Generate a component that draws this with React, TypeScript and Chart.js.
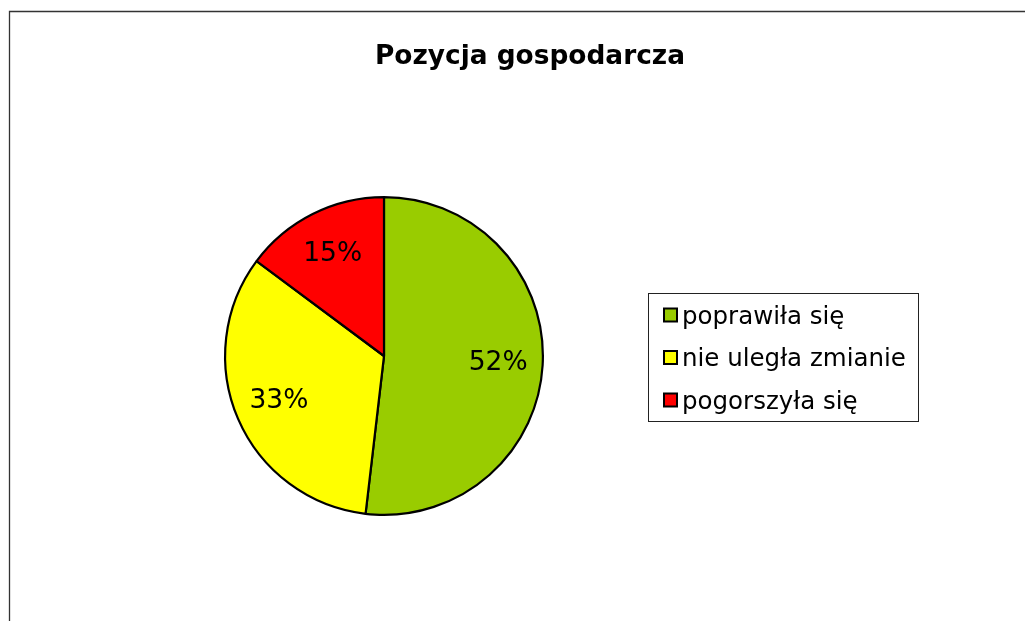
import React, { useEffect, useRef } from "react";
import { Chart, registerables } from "chart.js";

Chart.register(...registerables);

const title = "Pozycja gospodarcza";
const categories = ["poprawiła się", "nie uległa zmianie", "pogorszyła się"];
const values = [14, 9, 4];
const colors = ["#99CC00", "#FFFF00", "#FF0000"];

const FONT = "'DejaVu Sans', Verdana, sans-serif";

const decorPlugin = {
  id: "decor",
  afterDraw(chart: any) {
    const ctx = chart.ctx as CanvasRenderingContext2D;
    ctx.save();
    // outer frame
    ctx.strokeStyle = "#333333";
    ctx.lineWidth = 1.3;
    ctx.beginPath();
    ctx.moveTo(9.5, 700);
    ctx.lineTo(9.5, 11.5);
    ctx.lineTo(1025, 11.5);
    ctx.stroke();

    // title
    ctx.fillStyle = "#000";
    ctx.font = `bold 26.4px ${FONT}`;
    ctx.textAlign = "center";
    ctx.textBaseline = "alphabetic";
    ctx.fillText(title, 530, 64);

    // percentage labels
    const meta = chart.getDatasetMeta(0);
    const total = values.reduce((a, b) => a + b, 0);
    ctx.font = `26.5px ${FONT}`;
    ctx.textBaseline = "middle";
    meta.data.forEach((arc: any, i: number) => {
      const p = arc.getProps(["x", "y", "startAngle", "endAngle", "outerRadius"], true);
      const mid = (p.startAngle + p.endAngle) / 2;
      const r = p.outerRadius * 0.72;
      const tx = p.x + Math.cos(mid) * r;
      const ty = p.y + Math.sin(mid) * r;
      const pct = Math.round((values[i] / total) * 100) + "%";
      ctx.fillText(pct, tx, ty);
    });

    // legend
    const lx = 648.5, ly = 293.5, lw = 270, lh = 128;
    ctx.strokeStyle = "#222";
    ctx.lineWidth = 1;
    ctx.strokeRect(lx, ly, lw, lh);
    ctx.font = `24.5px ${FONT}`;
    ctx.textAlign = "left";
    ctx.textBaseline = "alphabetic";
    categories.forEach((c, i) => {
      const cy = 315.5 + i * 42.5;
      ctx.fillStyle = colors[i];
      ctx.fillRect(664, cy - 7, 13, 13);
      ctx.strokeStyle = "#000";
      ctx.lineWidth = 2;
      ctx.strokeRect(664, cy - 7, 13, 13);
      ctx.fillStyle = "#000";
      ctx.fillText(c, 682, cy + 8);
    });
    ctx.restore();
  },
};

export default function App() {
  const ref = useRef<HTMLCanvasElement | null>(null);
  useEffect(() => {
    if (!ref.current) return;
    const chart = new Chart(ref.current, {
      type: "pie",
      data: {
        labels: categories,
        datasets: [
          {
            data: values,
            backgroundColor: colors,
            borderColor: "#000",
            borderWidth: 2.2,
          },
        ],
      },
      options: {
        animation: false,
        responsive: false,
        devicePixelRatio: 1,
        layout: { padding: { left: 224, top: 196, right: 482, bottom: 105 } },
        plugins: {
          legend: { display: false },
          title: { display: false },
          tooltip: { enabled: false },
        },
      },
      plugins: [decorPlugin],
    });
    return () => chart.destroy();
  }, []);
  return (
    <div style={{ position: "fixed", left: 0, top: 0, width: 1026, height: 621, background: "#fff" }}>
      <canvas ref={ref} width={1026} height={621} style={{ display: "block" }} />
    </div>
  );
}
